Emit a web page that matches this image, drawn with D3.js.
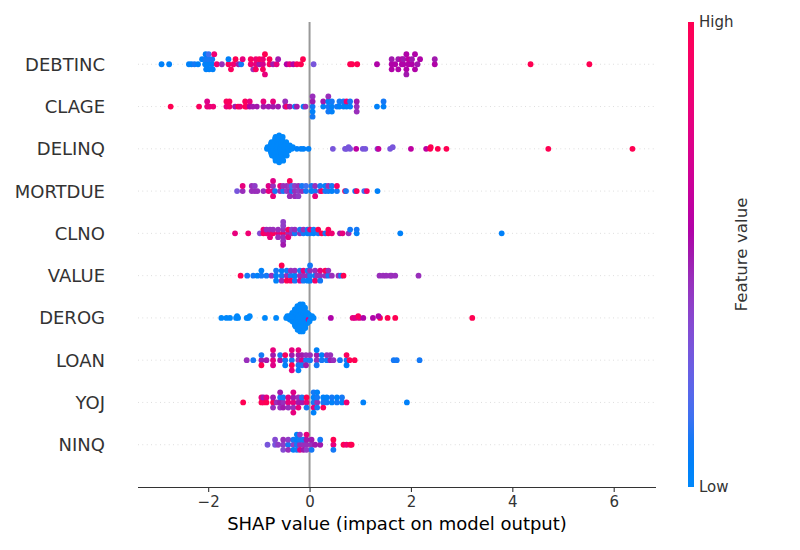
<!DOCTYPE html>
<html><head><meta charset="utf-8">
<script src="https://cdn.jsdelivr.net/npm/d3@7"></script>
<style>body{margin:0;background:#fff}svg{display:block}</style>
</head><body><svg id="chart" width="800" height="550"></svg>
<script>
// Features, most important first (top of chart)
const features = ["DEBTINC","CLAGE","DELINQ","MORTDUE","CLNO","VALUE","DEROG","LOAN","YOJ","NINQ"];
const xTicks = [-2,0,2,4,6];
const xLabel = "SHAP value (impact on model output)";
const colorbarHigh = "High", colorbarLow = "Low", colorbarTitle = "Feature value";

// [SHAP value, normalised feature value (0 = low, 1 = high)]
const debtinc = [
[-2.92,0.05],[-2.77,0.05],[-2.38,0.05],[-2.33,0.05],[-2.27,0.1],[-2.2,0.05],[-2.12,0.05],
[-2.06,0.05],[-2.05,0.1],[-2.04,0.05],[-2.05,0.08],[-2.0,0.05],[-1.99,0.1],[-1.98,0.05],[-1.99,0.15],[-1.93,0.05],[-1.92,0.1],[-1.91,0.05],
[-1.88,0.85],[-1.83,0.85],[-1.73,0.45],[-1.6,0.95],[-1.6,0.05],[-1.55,0.95],[-1.5,0.85],[-1.46,1.0],[-1.4,0.5],[-1.35,0.1],[-1.32,0.8],
[-1.16,0.85],[-1.16,0.95],[-1.11,0.45],[-1.06,0.8],[-1.06,0.85],[-1.06,0.95],[-0.99,0.5],[-0.99,0.95],[-0.92,0.7],[-0.92,0.85],[-0.92,0.95],[-0.88,1.0],[-0.88,0.8],
[-0.79,0.95],[-0.79,1.0],[-0.72,0.5],[-0.65,0.8],[-0.62,0.5],[-0.45,0.55],[-0.39,0.8],[-0.32,0.55],[-0.25,0.95],[-0.17,1.0],[-0.13,1.0],[0.08,0.3],
[0.8,1.0],[0.84,1.0],[0.94,1.0],[1.33,0.55],
[1.62,0.55],[1.62,0.5],[1.62,0.55],[1.69,0.55],[1.75,0.5],[1.75,0.55],[1.82,0.55],[1.82,0.6],[1.85,0.55],[1.85,0.5],[1.91,0.55],[1.91,0.55],[1.91,0.5],
[1.95,0.55],[1.95,0.6],[2.02,0.55],[2.02,0.5],[2.08,0.55],[2.08,0.55],[2.13,0.5],[2.18,0.55],[2.47,0.55],[2.47,0.5],[4.36,1.0],[5.52,1.0]
];
const clage = [
[-2.74,1.0],[-2.18,0.95],[-2.02,0.8],[-2.02,0.75],[-1.97,0.8],[-1.9,0.85],[-1.64,0.8],[-1.64,0.95],[-1.58,0.9],[-1.58,0.95],[-1.47,0.5],[-1.41,1.0],[-1.37,0.85],
[-1.27,1.0],[-1.27,0.95],[-1.24,0.95],[-1.18,0.55],[-1.18,0.8],[-1.12,0.5],[-1.04,0.5],[-0.91,0.5],[-0.91,0.8],[-0.81,0.5],[-0.72,0.5],[-0.72,0.8],[-0.62,0.5],
[-0.48,0.5],[-0.48,0.45],[-0.45,0.9],[-0.39,0.5],[-0.29,0.1],[-0.25,0.5],[-0.12,0.05],[-0.08,0.45],
[0.06,0.1],[0.06,0.5],[0.06,0.05],[0.06,0.45],[0.06,0.1],[0.27,0.05],[0.27,0.5],[0.37,0.1],[0.37,0.05],[0.37,0.1],[0.37,0.45],[0.44,0.05],[0.44,0.1],[0.44,0.05],
[0.54,0.1],[0.59,0.05],[0.59,0.1],[0.67,0.05],[0.67,0.1],[0.73,0.05],[0.73,0.85],[0.8,0.05],[0.8,0.1],[0.93,0.45],[0.93,0.5],[0.93,0.45],[1.33,0.05],[1.46,0.05],[1.46,0.1]
];
const delinq = [
[-0.84,0],[-0.83,0],
[-0.79,0],[-0.78,0],[-0.77,0],[-0.77,0],[-0.76,0],[-0.76,0],[-0.75,0],[-0.75,0],[-0.74,0],
[-0.72,0],[-0.71,0],[-0.71,0],[-0.7,0],[-0.7,0],[-0.7,0],[-0.69,0],[-0.69,0],[-0.69,0],[-0.68,0],[-0.68,0],[-0.68,0],[-0.67,0],[-0.67,0],[-0.67,0],
[-0.65,0],[-0.65,0],[-0.64,0],[-0.64,0],[-0.64,0],[-0.63,0],[-0.63,0],[-0.63,0],[-0.62,0],[-0.62,0],[-0.62,0],[-0.61,0],[-0.61,0],[-0.61,0],[-0.6,0],[-0.6,0],[-0.6,0],
[-0.58,0],[-0.57,0],[-0.57,0],[-0.56,0],[-0.56,0],[-0.56,0],[-0.55,0],[-0.55,0],[-0.55,0],[-0.54,0],[-0.54,0],[-0.54,0],[-0.53,0],[-0.53,0],[-0.52,0],
[-0.5,0],[-0.5,0],[-0.49,0],[-0.48,0],[-0.48,0],[-0.47,0],[-0.46,0],[-0.46,0],[-0.45,0],
[-0.43,0],[-0.42,0],[-0.41,0],[-0.39,0],[-0.35,0],[-0.33,0],
[-0.25,0.05],[-0.17,0.05],[-0.12,0.05],[-0.02,0.05],
[0.46,0.3],[0.7,0.3],[0.73,0.3],[0.77,0.3],[0.8,0.3],[0.92,0.6],[1.05,0.3],[1.1,0.3],[1.34,0.3],[1.36,0.65],[1.59,0.3],[1.64,0.3],
[2.0,0.6],[2.3,0.6],[2.38,1.0],[2.39,1.0],[2.53,1.0],[2.7,1.0],[4.71,1.0],[6.37,1.0]
];
const mortdue = [
[-1.43,0.3],[-1.32,0.45],[-1.32,0.8],[-1.14,0.45],[-1.14,0.45],[-1.08,0.45],[-1.08,0.4],[-1.03,0.45],[-0.91,0.45],[-0.81,0.8],[-0.81,0.75],
[-0.72,0.8],[-0.72,0.45],[-0.72,0.8],[-0.72,0.75],[-0.68,0.1],
[-0.58,0.45],[-0.58,0.8],[-0.52,0.1],[-0.52,0.45],[-0.45,0.4],[-0.45,0.45],
[-0.39,0.45],[-0.39,0.4],[-0.39,0.45],[-0.39,0.95],[-0.35,0.1],[-0.35,0.15],
[-0.29,0.45],[-0.29,0.4],[-0.29,0.45],[-0.22,0.4],[-0.22,0.45],[-0.22,0.4],[-0.15,0.45],[-0.15,0.1],[-0.07,0.1],[-0.07,0.15],
[0.04,0.05],[0.04,0.1],[0.11,0.1],[0.11,0.45],[0.11,0.8],[0.21,0.45],[0.21,0.1],[0.24,0.95],[0.31,0.1],[0.31,0.05],[0.37,0.1],[0.37,0.45],
[0.44,0.05],[0.44,0.1],[0.54,0.1],[0.54,0.9],[0.7,0.95],[0.72,0.1],[0.9,0.1],[0.93,0.95],[1.08,0.15],[1.13,0.9],[1.34,0.05]
];
const clno = [
[-1.47,0.8],[-1.21,0.85],[-0.98,0.35],[-0.91,0.95],[-0.91,0.85],[-0.85,0.85],[-0.85,0.45],[-0.78,0.8],[-0.78,0.45],[-0.78,0.8],[-0.72,0.95],[-0.72,0.45],
[-0.62,0.8],[-0.62,0.45],[-0.62,0.45],
[-0.52,0.95],[-0.52,0.45],[-0.52,0.45],[-0.52,0.4],[-0.52,0.45],[-0.52,0.4],[-0.52,0.5],
[-0.42,0.45],[-0.42,0.95],[-0.42,0.8],[-0.35,0.45],[-0.35,0.4],[-0.29,0.1],[-0.29,0.45],[-0.19,0.45],[-0.19,0.1],[-0.12,0.1],[-0.12,0.45],
[-0.04,0.05],[-0.04,0.1],[0.01,0.1],[0.01,0.85],[0.08,0.05],[0.08,0.1],[0.17,0.1],[0.17,1.0],[0.24,1.0],[0.31,0.1],[0.37,1.0],[0.37,0.95],[0.44,0.85],
[0.6,0.5],[0.65,0.8],[0.77,0.45],[0.8,0.1],[0.93,0.05],[0.93,0.1],[1.79,0.05],[3.79,0.05]
];
const value = [
[-1.36,1.0],[-1.23,0.1],[-1.11,0.1],[-1.03,0.05],[-0.95,0.1],[-0.95,0.05],[-0.85,0.1],[-0.75,0.45],
[-0.66,0.05],[-0.66,0.1],[-0.66,0.05],
[-0.55,0.1],[-0.55,0.05],[-0.55,0.45],[-0.55,1.0],
[-0.45,0.45],[-0.45,0.1],[-0.45,1.0],
[-0.37,0.1],[-0.37,0.45],[-0.37,0.95],
[-0.29,0.05],[-0.29,0.45],[-0.29,0.1],
[-0.19,0.45],[-0.19,0.1],[-0.19,0.75],
[-0.12,0.45],[-0.12,0.8],[-0.12,0.1],
[-0.04,0.45],[-0.04,0.1],[-0.04,0.05],
[0.01,0.1],[0.01,0.45],[0.01,0.05],[0.01,0.1],
[0.11,0.05],[0.11,0.45],[0.11,0.9],[0.15,0.45],
[0.21,0.45],[0.21,0.8],[0.21,0.1],
[0.31,0.45],[0.31,1.0],[0.37,0.1],[0.37,0.45],[0.44,0.45],[0.57,0.45],[0.62,0.1],[0.67,1.0],
[1.38,0.45],[1.45,0.45],[1.51,0.45],[1.62,0.45],[1.59,0.45],[1.69,0.45],[2.15,0.45]
];
const derog = [
[-1.74,0],[-1.64,0],[-1.57,0],[-1.45,0],[-1.43,0],[-1.41,0],[-1.24,0],[-1.21,0],[-1.18,0],[-0.88,0],[-0.66,0],
[-0.46,0],[-0.44,0],[-0.42,0],[-0.40,0],[-0.39,0],
[-0.37,0],[-0.36,0],[-0.35,0],[-0.35,0],[-0.34,0],[-0.34,0],
[-0.32,0],[-0.32,0],[-0.31,0],[-0.31,0],[-0.3,0],[-0.3,0],[-0.3,0],[-0.29,0],[-0.29,0],[-0.29,0],[-0.28,0],
[-0.27,0],[-0.27,0],[-0.27,0],[-0.26,0],[-0.26,0],[-0.26,0],[-0.25,0],[-0.25,0],[-0.25,0],[-0.25,0],[-0.24,0],[-0.24,0],[-0.24,0],[-0.24,0],[-0.235,0],
[-0.225,0],[-0.22,0],[-0.22,0],[-0.22,0],[-0.215,0],[-0.21,0],[-0.21,0],[-0.21,0],[-0.205,0],[-0.2,0],[-0.2,0],[-0.2,0],[-0.195,0],[-0.19,0],[-0.19,0],[-0.185,0],[-0.185,0],
[-0.175,0],[-0.17,0],[-0.17,0],[-0.165,0],[-0.165,0],[-0.16,0],[-0.16,0],[-0.155,0],[-0.155,0],[-0.15,0],[-0.15,0],[-0.145,0],[-0.145,0],[-0.14,0],[-0.14,0],[-0.135,0],[-0.135,0],
[-0.125,0],[-0.12,0],[-0.12,0],[-0.115,0],[-0.11,0],[-0.11,0],[-0.105,0],[-0.1,0],[-0.1,0],[-0.095,0],[-0.09,0],[-0.09,0],[-0.085,0],
[-0.075,0],[-0.07,0],[-0.065,0],[-0.06,0],[-0.05,0],[-0.045,0],[-0.04,0],
[-0.03,0],[-0.02,0],[-0.02,0.7],[-0.01,0],[0.0,0],
[0.03,0],[0.05,0],[0.08,0],
[0.42,0.55],[0.85,0.8],[0.9,0.75],[0.98,0.8],[0.96,0.95],[1.06,0.55],[1.25,0.55],[1.39,1.0],[1.36,0.55],[1.54,1.0],[1.69,1.0],[3.21,1.0]
];
const loan = [
[-1.24,0.45],[-1.11,0.1],[-0.95,0.5],[-0.95,0.1],[-0.95,1.0],[-0.85,0.5],
[-0.72,0.8],[-0.72,0.5],[-0.72,0.75],[-0.72,0.8],[-0.58,0.5],[-0.58,0.1],
[-0.48,0.1],[-0.48,0.95],[-0.48,0.05],
[-0.35,0.1],[-0.35,0.5],[-0.35,1.0],[-0.35,0.8],[-0.35,0.8],
[-0.22,0.45],[-0.22,0.5],[-0.22,0.1],[-0.22,0.8],[-0.22,0.05],
[-0.15,0.75],[-0.15,0.5],[-0.15,0.1],[-0.07,0.1],[-0.07,0.45],[-0.07,0.5],
[0.01,0.1],[0.01,0.45],[0.14,0.45],[0.14,0.5],[0.14,0.1],[0.14,0.05],[0.24,0.1],[0.24,0.05],
[0.34,0.1],[0.34,0.45],[0.41,0.5],[0.41,0.45],[0.47,0.45],[0.6,0.1],
[0.73,0.1],[0.73,0.95],[0.73,0.05],[0.79,1.0],[0.89,1.0],[1.66,0.1],[1.72,0.1],[2.17,0.1]
];
const yoj = [
[-1.31,1.0],[-0.95,1.0],[-0.95,0.8],[-0.91,0.95],[-0.91,0.5],[-0.85,1.0],[-0.85,0.8],
[-0.72,1.0],[-0.72,0.5],[-0.72,0.45],[-0.65,0.45],
[-0.58,0.5],[-0.58,0.1],[-0.58,0.45],[-0.58,0.5],
[-0.52,0.45],[-0.52,0.1],[-0.52,0.5],
[-0.42,0.8],[-0.42,0.75],[-0.42,0.45],
[-0.32,0.8],[-0.32,0.5],[-0.32,0.45],[-0.32,0.75],[-0.32,0.8],
[-0.22,0.5],[-0.22,0.45],[-0.22,0.8],[-0.15,0.5],[-0.15,0.1],
[-0.06,0.8],[-0.06,1.0],[-0.06,0.1],
[0.08,0.1],[0.08,0.05],[0.08,0.8],[0.08,0.1],[0.08,0.05],
[0.15,0.45],[0.15,0.1],[0.15,0.1],[0.15,0.05],
[0.27,0.1],[0.27,0.05],[0.27,0.95],[0.34,0.1],[0.34,0.05],[0.44,0.05],[0.44,0.1],[0.54,0.1],[0.54,0.05],[0.64,0.05],[0.64,0.1],
[0.73,0.85],[1.06,0.05],[1.92,0.05]
];
const ninq = [
[-0.83,0.3],[-0.68,0.3],[-0.68,0.35],[-0.62,0.4],
[-0.52,0.4],[-0.52,0.45],[-0.52,0.35],
[-0.42,0.1],[-0.42,0.4],[-0.42,0.45],
[-0.32,0.4],[-0.32,0.1],[-0.32,0.05],
[-0.25,0.1],[-0.25,0.05],[-0.25,0.1],[-0.25,0.05],
[-0.19,0.45],[-0.19,0.1],[-0.19,0.75],[-0.19,0.4],
[-0.12,0.45],[-0.12,0.1],[-0.12,0.5],
[-0.06,0.45],[-0.06,0.5],[-0.06,0.4],[-0.06,0.8],
[0.04,0.45],[0.04,0.5],[0.04,0.1],[0.11,0.5],[0.21,0.5],[0.21,0.1],
[0.47,0.8],[0.47,1.0],[0.47,0.1],[0.67,1.0],[0.73,0.85],[0.8,1.0],[0.83,1.0]
];
const rows = [debtinc, clage, delinq, mortdue, clno, value, derog, loan, yoj, ninq];

// ---------- layout ----------
const W = 800, H = 550;
const plot = {left: 138, right: 656, top: 22, bottom: 487};
const svg = d3.select("#chart");
const font = "'DejaVu Sans', sans-serif";

const allVals = rows.flat().map(d => d[0]);
const ext = d3.extent(allVals);
const pad = (ext[1] - ext[0]) * 0.05;
const x = d3.scaleLinear().domain([ext[0] - pad, ext[1] + pad]).range([plot.left, plot.right]);
const n = features.length;
const y = d3.scaleLinear().domain([-1, n]).range([plot.bottom, plot.top]);

// SHAP red_blue colormap (LCH interpolation with darker middle)
function shapColor(t) {
  t = Math.max(0, Math.min(1, t));
  const h = 266.93 + t * (380.32 - 266.93);
  const c = 70 + 20 * t;
  const l = t < 0.5 ? 54 - 28 * t : 40 + 28 * (t - 0.5);
  const col = d3.rgb(d3.hcl(h % 360, c, l));
  return d3.rgb(Math.max(0, Math.min(255, col.r)), Math.max(0, Math.min(255, col.g)), Math.max(0, Math.min(255, col.b))).formatHex();
}

// SHAP beeswarm layering
function swarm(vals) {
  const N = vals.length, nb = 100;
  const mn = d3.min(vals), mx = d3.max(vals);
  const q = vals.map(v => Math.round(nb * (v - mn) / (mx - mn + 1e-8)));
  const inds = d3.range(N).sort((a, b) => (q[a] - q[b]) || (a - b));
  let layer = 0, last = -1;
  const ys = new Array(N).fill(0);
  for (const i of inds) {
    if (q[i] !== last) layer = 0;
    ys[i] = Math.ceil(layer / 2) * ((layer % 2) * 2 - 1);
    layer++; last = q[i];
  }
  const m = d3.max(ys.map(v => v + 1));
  return ys.map(v => v * 0.9 * 0.4 / m);
}

// grid lines (dotted)
const g = svg.append("g");
features.forEach((f, i) => {
  const pos = n - 1 - i;
  g.append("line").attr("x1", plot.left).attr("x2", plot.right)
    .attr("y1", y(pos)).attr("y2", y(pos))
    .attr("stroke", "#cccccc").attr("stroke-width", 0.8).attr("stroke-dasharray", "0.8,3.6");
});
// zero line
g.append("line").attr("x1", x(0)).attr("x2", x(0)).attr("y1", plot.top).attr("y2", plot.bottom)
  .attr("stroke", "#999999").attr("stroke-width", 2);

// points
const pts = svg.append("g");
for (let i = n - 1; i >= 0; i--) {
  const pos = n - 1 - i;
  const data = rows[i];
  const offs = swarm(data.map(d => d[0]));
  pts.selectAll(null).data(data).enter().append("circle")
    .attr("cx", d => x(d[0]))
    .attr("cy", (d, k) => y(pos + offs[k]))
    .attr("r", 2.9)
    .attr("fill", d => shapColor(d[1]));
}

// y labels
svg.append("g").selectAll("text").data(features).enter().append("text")
  .attr("x", 105).attr("y", (d, i) => y(n - 1 - i))
  .attr("text-anchor", "end").attr("dominant-baseline", "central")
  .attr("font-family", font).attr("font-size", 18).attr("fill", "#333333")
  .text(d => d);

// x axis
const xAxis = d3.axisBottom(x).tickValues(xTicks).tickSizeOuter(0).tickSize(5).tickPadding(4)
  .tickFormat(d3.format("d"));
const ax = svg.append("g").attr("transform", `translate(0,${plot.bottom})`).call(xAxis);
ax.select(".domain").attr("stroke", "#333333").attr("stroke-width", 1.1).attr("d", `M${plot.left},0.5H${plot.right}`);
ax.selectAll(".tick line").attr("stroke", "#333333").attr("stroke-width", 1.1);
ax.selectAll(".tick text").attr("font-family", font).attr("font-size", 15).attr("fill", "#333333");

svg.append("text").attr("x", (plot.left + plot.right) / 2).attr("y", 530)
  .attr("text-anchor", "middle").attr("font-family", font).attr("font-size", 18).attr("fill", "#000")
  .text(xLabel);

// colorbar
const defs = svg.append("defs");
const grad = defs.append("linearGradient").attr("id", "cbar")
  .attr("x1", 0).attr("y1", 1).attr("x2", 0).attr("y2", 0);
d3.range(0, 1.0001, 0.05).forEach(t => {
  grad.append("stop").attr("offset", t).attr("stop-color", shapColor(t));
});
const cb = {x: 688, w: 6, top: plot.top, bottom: plot.bottom};
svg.append("rect").attr("x", cb.x).attr("y", cb.top).attr("width", cb.w).attr("height", cb.bottom - cb.top)
  .attr("fill", "url(#cbar)");
svg.append("text").attr("x", cb.x + cb.w + 5).attr("y", cb.top).attr("dominant-baseline", "central")
  .attr("font-family", font).attr("font-size", 15).attr("fill", "#333333").text(colorbarHigh);
svg.append("text").attr("x", cb.x + cb.w + 5).attr("y", cb.bottom).attr("dominant-baseline", "central")
  .attr("font-family", font).attr("font-size", 15).attr("fill", "#333333").text(colorbarLow);
svg.append("text").attr("transform", `translate(741,${(cb.top + cb.bottom) / 2}) rotate(-90)`)
  .attr("text-anchor", "middle").attr("dominant-baseline", "central")
  .attr("font-family", font).attr("font-size", 16.7).attr("fill", "#333333").text(colorbarTitle);
</script>
</body></html>
